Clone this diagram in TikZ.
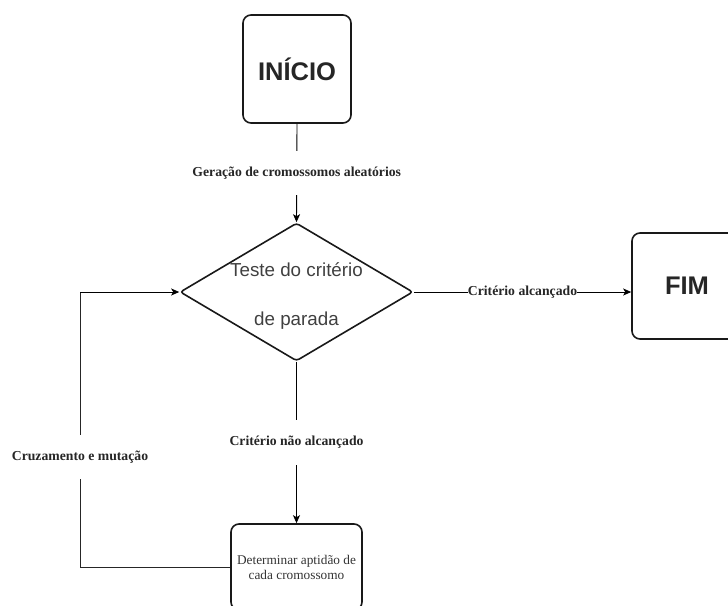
\documentclass[tikz,border=0pt]{standalone}
\usepackage{fontspec}
\setmainfont{Liberation Serif}
\newfontfamily\arialf{Liberation Sans}
\usetikzlibrary{shapes.geometric,arrows.meta}
\begin{document}
\begin{tikzpicture}[x=1pt,y=-1pt,
  box/.style={draw=black!90,line width=1.6pt,rounded corners=8pt,inner sep=0pt},
  conn/.style={draw=black,line width=0.9pt,-{Stealth[length=8pt,width=7pt,inset=2pt]}},
  plain/.style={draw=black!85,line width=0.9pt},
  lbl/.style={fill=white,inner xsep=1pt,inner ysep=16pt,font=\bfseries\fontsize{13.7}{15}\selectfont,text=black!85}]
\useasboundingbox (0,0) rectangle (728,605);
\clip (0,0) rectangle (728,605);
\node[box,minimum width=108pt,minimum height=108pt,font=\arialf\bfseries\fontsize{25.5}{28}\selectfont,text=black!85] (ini) at (297,69) {INÍCIO};
\node[draw=black!90,line width=1.6pt,diamond,minimum width=233pt,minimum height=138pt,inner sep=0pt,rounded corners=3pt] (dia) at (296.5,292) {};
\node[font=\arialf\fontsize{18.8}{49}\selectfont,text=black!75,align=center] (diat) at (296.5,296) {Teste do critério\\de parada};
\node[box,minimum width=110pt,minimum height=106pt,font=\arialf\bfseries\fontsize{25.5}{28}\selectfont,text=black!85] (fim) at (687,286) {FIM};
\node[box,minimum width=131pt,minimum height=86pt,align=center,font=\fontsize{13.3}{15}\selectfont,text=black!80] (det) at (296.5,567) {Determinar aptidão de\\cada cromossomo};
\coordinate (c1) at (80,567);
\coordinate (c2) at (80,292);
\draw[conn] (ini.south) -- node[lbl]{Geração de cromossomos aleatórios} (dia.north);
\draw[conn] (dia.south) -- node[lbl]{Critério não alcançado} (det.north);
\draw[conn] (dia.east) -- node[lbl,inner xsep=0pt,inner ysep=1pt]{Critério alcançado} (dia.east -| fim.west);
\draw[plain] (det.west) -- (c1);
\draw[plain] (c1) -- node[lbl,pos=0.4]{Cruzamento e mutação} (c2);
\draw[conn] (c2) -- (dia.west);
\end{tikzpicture}
\end{document}
